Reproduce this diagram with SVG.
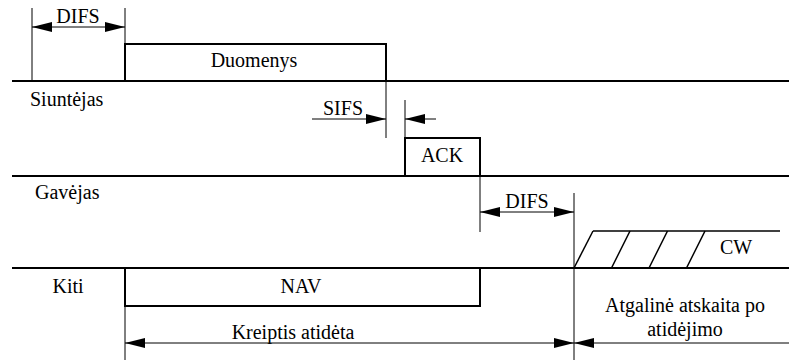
<svg xmlns="http://www.w3.org/2000/svg" width="789" height="360" viewBox="0 0 789 360">
<style>
text{font-family:"Liberation Serif","Tinos","Noto Serif","DejaVu Serif","FreeSerif","Times New Roman",serif;font-size:20px;fill:#000}
.c{text-anchor:middle}
.lane{stroke:#000;stroke-width:2;fill:none}
.box{stroke:#000;stroke-width:2;fill:#fff}
.thin{stroke:#000;stroke-width:1;fill:none}
.arr{stroke:#000;stroke-width:1;fill:none;marker-end:url(#ah)}
.arr2{stroke:#000;stroke-width:1;fill:none;marker-end:url(#ah);marker-start:url(#ah)}
</style>
<defs>
<marker id="ah" markerUnits="userSpaceOnUse" markerWidth="20" markerHeight="10" refX="20" refY="5" orient="auto-start-reverse">
<path d="M0,0 L20,5 L0,10 z" fill="#000"/>
</marker>
</defs>
<rect width="789" height="360" fill="#fff"/>
<g id="lanes">
<line class="lane" x1="12" y1="81" x2="789" y2="81"/>
<line class="lane" x1="12" y1="176" x2="789" y2="176"/>
<line class="lane" x1="12" y1="268" x2="789" y2="268"/>
</g>
<g id="lane-labels">
<text x="30" y="106">Siuntėjas</text>
<text x="35" y="199">Gavėjas</text>
<text x="68" y="293" class="c">Kiti</text>
</g>
<g id="duomenys">
<rect class="box" x="125" y="44" width="261" height="37"/>
<text x="254" y="67" class="c">Duomenys</text>
</g>
<g id="ack">
<rect class="box" x="405" y="138" width="75" height="38"/>
<text x="442" y="162" class="c">ACK</text>
</g>
<g id="nav">
<rect class="box" x="125" y="268" width="355" height="38"/>
<text x="301" y="293" class="c">NAV</text>
</g>
<g id="cw">
<line class="thin" style="stroke-width:1.5" x1="593" y1="231" x2="780" y2="231"/>
<line class="thin" style="stroke-width:1.5" x1="574" y1="268" x2="593" y2="231"/>
<line class="thin" style="stroke-width:1.5" x1="611.5" y1="268" x2="630" y2="231"/>
<line class="thin" style="stroke-width:1.5" x1="649" y1="268" x2="667.5" y2="231"/>
<line class="thin" style="stroke-width:1.5" x1="686.5" y1="268" x2="705" y2="231"/>
<text x="736" y="254" class="c">CW</text>
</g>
<g id="connectors">
<line class="thin" x1="32" y1="8" x2="32" y2="81"/>
<line class="thin" x1="125" y1="8" x2="125" y2="44"/>
<line class="arr2" x1="32" y1="27" x2="125" y2="27"/>
<line class="thin" x1="386" y1="81" x2="386" y2="138"/>
<line class="thin" x1="405" y1="100" x2="405" y2="138"/>
<line class="arr" x1="312" y1="119" x2="386" y2="119"/>
<line class="arr" x1="436" y1="119" x2="405" y2="119"/>
<line class="thin" x1="480" y1="176" x2="480" y2="232"/>
<line class="thin" x1="574" y1="193" x2="574" y2="360"/>
<line class="arr2" x1="480" y1="212" x2="574" y2="212"/>
<line class="thin" x1="125" y1="306" x2="125" y2="360"/>
<line class="arr2" x1="125" y1="343" x2="574" y2="343"/>
<line class="arr" x1="789" y1="343" x2="574" y2="343"/>
</g>
<g id="labels">
<text x="78" y="23" class="c">DIFS</text>
<text x="343" y="115" class="c">SIFS</text>
<text x="527" y="208" class="c">DIFS</text>
<text x="293" y="339" class="c">Kreiptis atidėta</text>
<text x="685" y="312" class="c">Atgalinė atskaita po</text>
<text x="685" y="336" class="c">atidėjimo</text>
</g>
</svg>
